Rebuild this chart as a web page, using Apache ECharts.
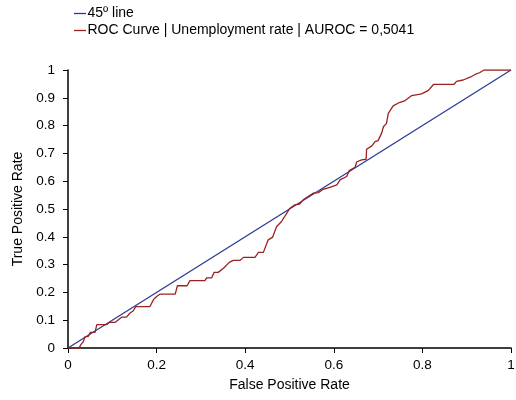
<!DOCTYPE html>
<html>
<head>
<meta charset="utf-8">
<script src="https://cdn.jsdelivr.net/npm/echarts@6/dist/echarts.min.js"></script>
<style>
html,body{margin:0;padding:0;background:#fff;}
#chart{width:516px;height:400px;}
</style>
</head>
<body>
<div id="chart"></div>
<script>
// Reference diagonal (random classifier)
const diagonalX = [0, 1];
const diagonalY = [0, 1];

// ROC curve: false positive rate / true positive rate pairs
const rocFpr = [0, 0.025, 0.029, 0.035, 0.038, 0.046, 0.050, 0.061, 0.065, 0.087, 0.093, 0.106, 0.110, 0.121, 0.132, 0.140, 0.147, 0.153, 0.185, 0.193, 0.200, 0.208, 0.242, 0.247, 0.269, 0.275, 0.309, 0.313, 0.324, 0.330, 0.339, 0.351, 0.364, 0.373, 0.388, 0.396, 0.422, 0.430, 0.441, 0.452, 0.462, 0.471, 0.482, 0.501, 0.512, 0.523, 0.531, 0.542, 0.554, 0.565, 0.576, 0.591, 0.607, 0.614, 0.629, 0.635, 0.648, 0.652, 0.663, 0.673, 0.674, 0.686, 0.693, 0.700, 0.708, 0.712, 0.719, 0.723, 0.734, 0.748, 0.761, 0.776, 0.798, 0.813, 0.825, 0.871, 0.877, 0.892, 0.909, 0.919, 0.930, 0.939, 1];
const rocTpr = [0, 0, 0.012, 0.024, 0.040, 0.042, 0.056, 0.056, 0.084, 0.084, 0.092, 0.092, 0.099, 0.111, 0.111, 0.126, 0.133, 0.149, 0.149, 0.174, 0.185, 0.194, 0.194, 0.224, 0.224, 0.242, 0.242, 0.252, 0.252, 0.272, 0.272, 0.287, 0.308, 0.315, 0.315, 0.326, 0.326, 0.344, 0.344, 0.389, 0.399, 0.437, 0.455, 0.503, 0.515, 0.518, 0.533, 0.545, 0.557, 0.559, 0.571, 0.578, 0.587, 0.605, 0.617, 0.638, 0.650, 0.670, 0.677, 0.679, 0.715, 0.727, 0.742, 0.746, 0.773, 0.796, 0.808, 0.844, 0.871, 0.883, 0.890, 0.908, 0.914, 0.926, 0.948, 0.948, 0.959, 0.964, 0.975, 0.984, 0.991, 1.0, 1];

// Axis tick labels
const xTickLabels = ['0', '0.2', '0.4', '0.6', '0.8', '1'];
const yTickLabels = ['0', '0.1', '0.2', '0.3', '0.4', '0.5', '0.6', '0.7', '0.8', '0.9', '1'];

const seriesNames = ['45º line', 'ROC Curve | Unemployment rate | AUROC = 0,5041'];
const FONT = '"Liberation Sans", Arial, sans-serif';
const BLUE = '#2B3A95';
const RED = '#9A2220';
const TICK_FONT = 13.5;
const NAME_FONT = 14;

const zip = (xs, ys) => xs.map((x, i) => [x, ys[i]]);

// Legend drawn as a line swatch followed by its label, stacked vertically
const legendColors = [BLUE, RED];
const legendGraphics = [];
seriesNames.forEach((name, i) => {
  const cy = 13.5 + i * 17;
  legendGraphics.push({
    type: 'line',
    shape: { x1: 74, y1: cy, x2: 86, y2: cy },
    style: { stroke: legendColors[i], lineWidth: 1.3 }
  });
  legendGraphics.push({
    type: 'text',
    x: 87.5,
    y: cy,
    style: {
      text: name,
      font: NAME_FONT + 'px ' + FONT,
      fill: '#000',
      textVerticalAlign: 'middle',
      verticalAlign: 'middle'
    }
  });
});

const chart = echarts.init(document.getElementById('chart'), null, { renderer: 'canvas' });
chart.setOption({
  animation: false,
  backgroundColor: '#fff',
  textStyle: { fontFamily: FONT },
  graphic: legendGraphics,
  grid: { left: 68, right: 5, top: 70, bottom: 52, containLabel: false, outerBoundsMode: 'none' },
  xAxis: {
    type: 'value',
    min: 0, max: 1, interval: 0.2,
    name: 'False Positive Rate',
    nameLocation: 'middle',
    nameGap: 30,
    nameTextStyle: { fontFamily: FONT, fontSize: NAME_FONT, color: '#000' },
    axisLine: { show: true, onZero: false, lineStyle: { color: '#000', width: 1.5 } },
    axisTick: { show: true, length: 5, lineStyle: { color: '#000' } },
    axisLabel: {
      fontFamily: FONT, fontSize: TICK_FONT, color: '#000', margin: 10,
      formatter: (v) => xTickLabels[Math.round(v / 0.2)]
    },
    splitLine: { show: false }
  },
  yAxis: {
    type: 'value',
    min: 0, max: 1, interval: 0.1,
    name: 'True Positive Rate',
    nameLocation: 'middle',
    nameGap: 43,
    nameTextStyle: { fontFamily: FONT, fontSize: NAME_FONT, color: '#000' },
    axisLine: { show: true, onZero: false, lineStyle: { color: '#000', width: 1.5 } },
    axisTick: { show: true, length: 5, lineStyle: { color: '#000' } },
    axisLabel: {
      fontFamily: FONT, fontSize: TICK_FONT, color: '#000', margin: 13,
      formatter: (v) => yTickLabels[Math.round(v / 0.1)]
    },
    splitLine: { show: false }
  },
  series: [
    {
      name: seriesNames[0],
      type: 'line',
      data: zip(diagonalX, diagonalY),
      showSymbol: false,
      symbol: 'none',
      lineStyle: { color: BLUE, width: 1.3 },
      itemStyle: { color: BLUE },
      z: 2
    },
    {
      name: seriesNames[1],
      type: 'line',
      data: zip(rocFpr, rocTpr),
      showSymbol: false,
      symbol: 'none',
      lineStyle: { color: RED, width: 1.3 },
      itemStyle: { color: RED },
      z: 3
    }
  ]
});
</script>
</body>
</html>
